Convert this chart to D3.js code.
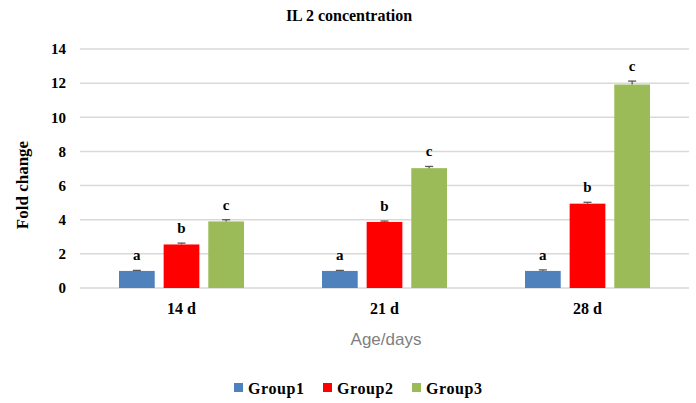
<!DOCTYPE html>
<html>
<head>
<meta charset="utf-8">
<script src="https://cdn.jsdelivr.net/npm/d3@7"></script>
<style>
  html, body { margin: 0; padding: 0; background: #ffffff; }
  svg { display: block; }
</style>
</head>
<body>
<div id="chart"></div>
<script>
// IL 2 concentration: fold change by age, three groups
const categories = ["14 d", "21 d", "28 d"];
const groups = ["Group1", "Group2", "Group3"];
const group1 = [1.0, 1.0, 1.0];
const group2 = [2.55, 3.87, 4.94];
const group3 = [3.9, 7.02, 11.92];
const group1Err = [0.03, 0.03, 0.06];
const group2Err = [0.08, 0.05, 0.08];
const group3Err = [0.1, 0.1, 0.2];
const letters = ["a", "b", "c"];
const yTicks = [0, 2, 4, 6, 8, 10, 12, 14];
const colors = ["#4f81bd", "#ff0000", "#9bbb59"];

const W = 696, H = 403;
const serif = "'Liberation Serif', 'Times New Roman', serif";

const svg = d3.select("#chart").append("svg")
  .attr("width", W).attr("height", H);

const x = d3.scaleBand().domain(categories).range([80, 689]).padding(0);
const xInner = d3.scaleBand().domain(groups).range([39, 164]).paddingInner(0.2).paddingOuter(0);
const y = d3.scaleLinear().domain([0, 14]).range([288, 49]);

// gridlines
svg.append("g")
  .selectAll("line").data(yTicks).join("line")
  .attr("x1", 80).attr("x2", 689)
  .attr("y1", d => y(d)).attr("y2", d => y(d))
  .attr("stroke", "#d9d9d9").attr("stroke-width", 1.5);

// y axis labels
const yAxis = d3.axisLeft(y).tickValues(yTicks).tickSize(0).tickPadding(14);
const gy = svg.append("g").attr("transform", "translate(80,0)").call(yAxis);
gy.select(".domain").remove();
gy.selectAll("text")
  .attr("font-family", serif).attr("font-weight", "bold")
  .attr("font-size", 15).attr("fill", "#000");

// x axis labels
const xAxis = d3.axisBottom(x).tickSize(0).tickPadding(12);
const gx = svg.append("g").attr("transform", "translate(0,291)").call(xAxis);
gx.select(".domain").remove();
gx.selectAll("text")
  .attr("font-family", serif).attr("font-weight", "bold")
  .attr("font-size", 16).attr("fill", "#000");

const series = [
  { name: groups[0], values: group1, err: group1Err },
  { name: groups[1], values: group2, err: group2Err },
  { name: groups[2], values: group3, err: group3Err }
];

const rows = [];
series.forEach((s, si) => {
  categories.forEach((c, ci) => {
    rows.push({ cat: c, group: s.name, si, v: s.values[ci], e: s.err[ci] });
  });
});

const bx = d => x(d.cat) + xInner(d.group);

// bars
svg.append("g").selectAll("rect").data(rows).join("rect")
  .attr("x", bx)
  .attr("y", d => y(d.v))
  .attr("width", xInner.bandwidth())
  .attr("height", d => y(0) - y(d.v))
  .attr("fill", d => colors[d.si]);

// error bars (upper)
const eb = svg.append("g").attr("stroke", "#595959").attr("stroke-width", 1.3);
eb.selectAll("line.v").data(rows).join("line").attr("class", "v")
  .attr("x1", d => bx(d) + xInner.bandwidth() / 2)
  .attr("x2", d => bx(d) + xInner.bandwidth() / 2)
  .attr("y1", d => y(d.v)).attr("y2", d => y(d.v + d.e));
eb.selectAll("line.c").data(rows).join("line").attr("class", "c")
  .attr("x1", d => bx(d) + xInner.bandwidth() / 2 - 4)
  .attr("x2", d => bx(d) + xInner.bandwidth() / 2 + 4)
  .attr("y1", d => y(d.v + d.e)).attr("y2", d => y(d.v + d.e));

// significance letters
svg.append("g").selectAll("text").data(rows).join("text")
  .attr("x", d => bx(d) + xInner.bandwidth() / 2)
  .attr("y", d => y(d.v + d.e) - 10)
  .attr("text-anchor", "middle")
  .attr("font-family", serif).attr("font-weight", "bold")
  .attr("font-size", 15).attr("fill", "#000")
  .text(d => letters[d.si]);

// title
svg.append("text")
  .attr("x", 349).attr("y", 21)
  .attr("text-anchor", "middle")
  .attr("font-family", serif).attr("font-weight", "bold")
  .attr("font-size", 16).attr("fill", "#000")
  .text("IL 2 concentration");

// y axis title
svg.append("text")
  .attr("transform", "translate(28,185) rotate(-90)")
  .attr("text-anchor", "middle")
  .attr("font-family", serif).attr("font-weight", "bold")
  .attr("font-size", 17).attr("fill", "#000")
  .text("Fold change");

// x axis title
svg.append("text")
  .attr("x", 386).attr("y", 345)
  .attr("text-anchor", "middle")
  .attr("font-family", "'Liberation Sans', Arial, sans-serif")
  .attr("font-size", 17).attr("fill", "#7f7f7f")
  .text("Age/days");

// legend
const legend = svg.append("g");
const legendX = [234, 323, 412];
groups.forEach((g, i) => {
  const item = legend.append("g").attr("transform", `translate(${legendX[i]},383)`);
  item.append("rect").attr("width", 9).attr("height", 9).attr("fill", colors[i]);
  item.append("text")
    .attr("x", 14).attr("y", 11)
    .attr("font-family", serif).attr("font-weight", "bold")
    .attr("font-size", 16).attr("letter-spacing", 0.6).attr("fill", "#000")
    .text(g);
});
</script>
</body>
</html>
